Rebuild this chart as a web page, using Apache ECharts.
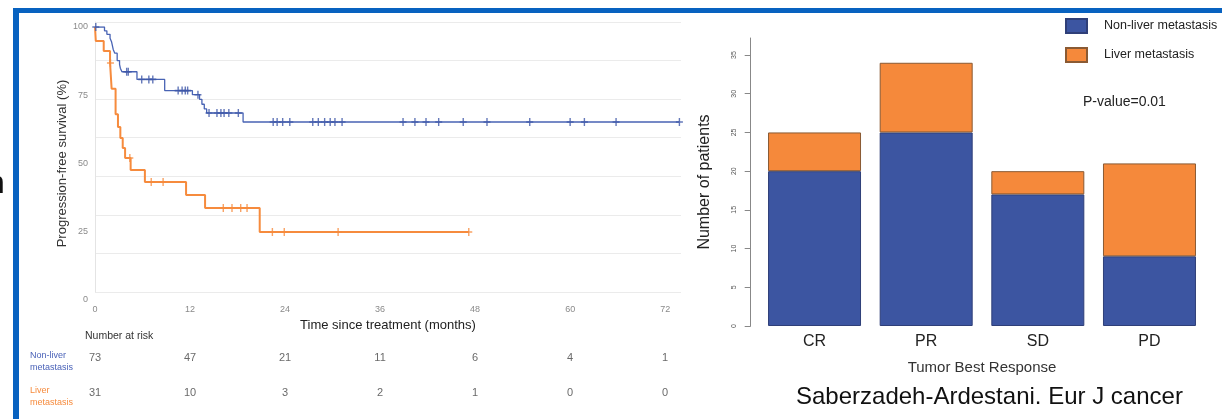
<!DOCTYPE html>
<html>
<head>
<meta charset="utf-8">
<script src="https://cdn.jsdelivr.net/npm/echarts@6/dist/echarts.min.js"></script>
<style>
html,body{margin:0;padding:0;background:#fff;}
#c{width:1222px;height:419px;}
</style>
</head>
<body>
<div id="c"></div>
<script>
// ---------- Kaplan-Meier data (months, % progression-free) ----------
const nonLiverTimes = [0, 1.2, 1.5, 1.9, 2.1, 2.3, 2.5, 2.8, 3.1, 3.2, 3.4, 5.3, 8.8, 12.3, 13.2, 13.5, 13.8, 14.1, 18.7, 73.8];
const nonLiverSurv  = [100, 98.6, 97.3, 95.9, 94.5, 91.8, 90.4, 87.7, 86.3, 84.9, 83.6, 80.8, 76.7, 75.2, 73.5, 71.7, 70.0, 68.5, 65.2, 65.2];
const nonLiverCensor = [0.1, 4.0, 4.2, 5.9, 6.8, 7.3, 10.5, 11.0, 11.4, 11.7, 13.0, 14.4, 15.4, 15.9, 16.3, 16.9, 18.1,
  22.5, 23.0, 23.7, 24.6, 27.5, 28.2, 29.0, 29.7, 30.3, 31.2, 38.9, 40.4, 41.8, 43.4, 46.5, 49.5, 54.9, 60.0, 61.8, 65.8, 73.8];

const liverTimes = [0, 0.1, 1.1, 1.9, 2.1, 2.6, 2.9, 3.2, 3.5, 3.8, 4.5, 6.3, 11.5, 13.9, 20.8, 47.2];
const liverSurv  = [100, 94.9, 91.2, 86.8, 77.4, 68.0, 63.4, 59.3, 55.7, 52.0, 47.6, 43.2, 38.5, 33.7, 24.9, 24.9];
const liverCensor = [1.95, 4.4, 7.1, 8.6, 16.2, 17.3, 18.4, 19.2, 22.4, 23.9, 30.7, 47.2];

const kmXTicks = [0, 12, 24, 36, 48, 60, 72];

// ---------- Number at risk ----------
const riskTimes = [0, 12, 24, 36, 48, 60, 72];
const riskNonLiver = [73, 47, 21, 11, 6, 4, 1];
const riskLiver = [31, 10, 3, 2, 1, 0, 0];
const riskRows = ['Non-liver\nmetastasis', 'Liver\nmetastasis'];

// ---------- Best response bar data ----------
const responseCats = ['CR', 'PR', 'SD', 'PD'];
const barNonLiver = [20, 25, 17, 9];
const barLiver = [5, 9, 3, 12];
const barYTicks = [0, 5, 10, 15, 20, 25, 30, 35];

// ---------- helpers ----------
const BLUE_LINE = '#4863b4', ORANGE_LINE = '#f68b3d';
const BLUE_BAR = '#3c55a1', ORANGE_BAR = '#f5893b';
const FONT = 'Liberation Sans';

function survAt(times, surv, t) {
  let s = surv[0];
  for (let i = 0; i < times.length; i++) { if (times[i] <= t) s = surv[i]; }
  return s;
}
const pair = (xs, ys) => xs.map((x, i) => [x, ys[i]]);
const plusPath = 'path://M4,0H6V4H10V6H6V10H4V6H0V4H4Z';

const chart = echarts.init(document.getElementById('c'), null, {renderer: 'canvas'});

const KM_LEFT = 95, KM_W = 586, KM_MAX = 74;

const option = {
  backgroundColor: '#fff',
  animation: false,
  textStyle: {fontFamily: FONT},
  grid: [
    {left: KM_LEFT, top: 22, width: KM_W, height: 270},      // 0 grid lines
    {left: KM_LEFT, top: 27, width: KM_W, height: 273},      // 1 KM data
    {left: KM_LEFT, top: 344, width: KM_W, height: 70},      // 2 risk table
    {left: 758.7, top: 38, width: 446.6, height: 288}        // 3 bars
  ],
  xAxis: [
    {gridIndex: 0, type: 'value', min: 0, max: KM_MAX, show: false},
    {gridIndex: 1, type: 'value', min: 0, max: KM_MAX, interval: 12,
      axisLine: {show: false}, axisTick: {show: false}, splitLine: {show: false},
      axisLabel: {customValues: kmXTicks, fontSize: 9, color: '#8a8a8a', margin: 5,
        formatter: v => (v % 12 === 0 ? String(v) : '')},
      name: 'Time since treatment (months)', nameLocation: 'middle', nameGap: 11,
      nameTextStyle: {fontSize: 13, color: '#222'}},
    {gridIndex: 2, type: 'value', min: 0, max: KM_MAX, show: false},
    {gridIndex: 3, type: 'category', data: responseCats,
      axisLine: {show: false}, axisTick: {show: false},
      axisLabel: {fontSize: 16, color: '#222', margin: 8},
      name: 'Tumor Best Response', nameLocation: 'middle', nameGap: 34,
      nameTextStyle: {fontSize: 15, color: '#333'}}
  ],
  yAxis: [
    {gridIndex: 0, type: 'value', min: 0, max: 7, interval: 1,
      axisLabel: {show: false}, axisTick: {show: false},
      axisLine: {show: true, lineStyle: {color: '#e4e4e4'}},
      splitLine: {show: true, lineStyle: {color: '#ebebeb', width: 1}}},
    {gridIndex: 1, type: 'value', min: 0, max: 100, interval: 25,
      axisLine: {show: false}, axisTick: {show: false}, splitLine: {show: false},
      axisLabel: {fontSize: 9, color: '#8a8a8a', margin: 7},
      name: 'Progression-free survival (%)', nameLocation: 'middle', nameGap: 26,
      nameTextStyle: {fontSize: 13, color: '#333'}},
    {gridIndex: 2, type: 'category', data: riskRows, inverse: true,
      axisLine: {show: false}, axisTick: {show: false},
      axisLabel: {align: 'left', margin: 65, fontSize: 9, lineHeight: 12,
        color: (v, i) => (i === 0 ? '#4a62b8' : '#f68b3d')}},
    {gridIndex: 3, type: 'value', min: 0, max: 37.2, interval: 5, offset: 8,
      axisLine: {show: true, lineStyle: {color: '#888'}},
      axisTick: {show: true, length: 6, customValues: barYTicks, lineStyle: {color: '#888'}},
      splitLine: {show: false},
      axisLabel: {customValues: barYTicks, rotate: 90, fontSize: 7, color: '#555', margin: 13},
      name: 'Number of patients', nameLocation: 'middle', nameGap: 38,
      nameTextStyle: {fontSize: 16, color: '#222'}}
  ],
  legend: {
    data: ['Non-liver metastasis', 'Liver metastasis'],
    orient: 'vertical', left: 1060, top: 13,
    itemWidth: 21, itemHeight: 14, itemGap: 13,
    icon: 'rect',
    textStyle: {fontSize: 12.5, color: '#222', padding: [0, 0, 0, 12]}
  },
  series: [
    {name: 'Non-liver PFS', type: 'line', step: 'end', xAxisIndex: 1, yAxisIndex: 1,
      data: pair(nonLiverTimes, nonLiverSurv), showSymbol: false, symbol: 'none',
      lineStyle: {color: BLUE_LINE, width: 1.3}, z: 3},
    {name: 'Liver PFS', type: 'line', step: 'end', xAxisIndex: 1, yAxisIndex: 1,
      data: pair(liverTimes, liverSurv), showSymbol: false, symbol: 'none',
      lineStyle: {color: ORANGE_LINE, width: 2}, z: 3},
    {name: 'Non-liver censored', type: 'scatter', xAxisIndex: 1, yAxisIndex: 1,
      data: nonLiverCensor.map(t => [t, survAt(nonLiverTimes, nonLiverSurv, t)]),
      symbol: plusPath, symbolSize: [7, 8], itemStyle: {color: '#3d56a8'}, z: 4},
    {name: 'Liver censored', type: 'scatter', xAxisIndex: 1, yAxisIndex: 1,
      data: liverCensor.map(t => [t, survAt(liverTimes, liverSurv, t)]),
      symbol: plusPath, symbolSize: [7, 8], itemStyle: {color: ORANGE_LINE}, z: 4},
    {name: 'risk non-liver', type: 'scatter', xAxisIndex: 2, yAxisIndex: 2,
      data: riskNonLiver.map((v, i) => [riskTimes[i], 0, v]),
      symbolSize: 1, itemStyle: {color: 'rgba(0,0,0,0)'},
      label: {show: true, position: 'inside', offset: [0, -4], fontSize: 11, color: '#444', formatter: p => String(p.value[2])}},
    {name: 'risk liver', type: 'scatter', xAxisIndex: 2, yAxisIndex: 2,
      data: riskLiver.map((v, i) => [riskTimes[i], 1, v]),
      symbolSize: 1, itemStyle: {color: 'rgba(0,0,0,0)'},
      label: {show: true, position: 'inside', offset: [0, -4], fontSize: 11, color: '#444', formatter: p => String(p.value[2])}},
    {name: 'Non-liver metastasis', type: 'bar', stack: 'resp', xAxisIndex: 3, yAxisIndex: 3,
      data: barNonLiver, barWidth: 93,
      itemStyle: {color: BLUE_BAR, borderColor: '#2f3f78', borderWidth: 1}},
    {name: 'Liver metastasis', type: 'bar', stack: 'resp', xAxisIndex: 3, yAxisIndex: 3,
      data: barLiver, barWidth: 93,
      itemStyle: {color: ORANGE_BAR, borderColor: '#8a5a33', borderWidth: 1}}
  ],
  graphic: [
    {type: 'rect', shape: {x: 13, y: 8, width: 1209, height: 5}, style: {fill: '#0862c0'}, silent: true},
    {type: 'rect', shape: {x: 13, y: 8, width: 6, height: 411}, style: {fill: '#0862c0'}, silent: true},
    {type: 'text', x: -13, y: 184, style: {text: 'n', font: '32px Liberation Sans', fill: '#111', verticalAlign: 'middle'}},
    {type: 'text', x: 85, y: 336, style: {text: 'Number at risk', font: '10.5px Liberation Sans', fill: '#333', verticalAlign: 'middle'}},
    {type: 'text', x: 1083, y: 102, style: {text: 'P-value=0.01', font: '14px Liberation Sans', fill: '#222', verticalAlign: 'middle'}},
    {type: 'text', x: 796, y: 397, style: {text: 'Saberzadeh-Ardestani. Eur J cancer', font: '24px Liberation Sans', fill: '#111', verticalAlign: 'middle'}},
    {type: 'text', x: 796, y: 430, style: {text: '2024', font: '24px Liberation Sans', fill: '#111', verticalAlign: 'middle'}}
  ]
};
chart.setOption(option);
</script>
</body>
</html>
